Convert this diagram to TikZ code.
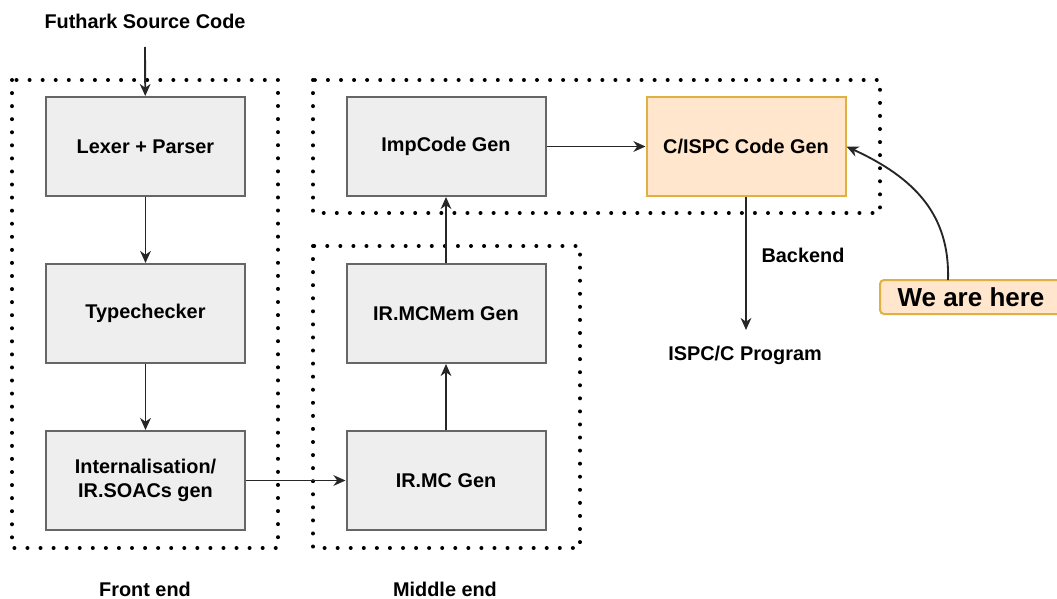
\documentclass[tikz,border=0pt]{standalone}
\usepackage{fontspec}
\setmainfont{Liberation Sans}
\usetikzlibrary{arrows.meta}
\definecolor{boxgray}{HTML}{EEEEEE}
\definecolor{linegray}{HTML}{666666}
\definecolor{peach}{HTML}{FFE6CC}
\definecolor{gold}{HTML}{E0B040}

\begin{document}
\begin{tikzpicture}[x=0.75pt,y=-0.75pt,
    bloc/.style={draw=linegray, fill=boxgray, line width=1.5pt, minimum width=149.25pt,
      minimum height=74.25pt, align=center, inner sep=0pt, font=\bfseries\fontsize{14.9}{18}\selectfont},
    label/.style={font=\bfseries\fontsize{14.9}{18}\selectfont, inner sep=0pt},
    fleche/.style={-{Stealth[length=9pt,width=8pt,inset=2.8pt]}, line width=1.4pt, draw=black!85},
    pointille/.style={line width=3pt, line cap=round, dash pattern=on 0pt off 9.8pt}]
  \useasboundingbox (0,0) rectangle (1057,599);

      % CADRES POINTILLES
      \draw[pointille] (12,80) rectangle (278,548); % Front end
      \draw[pointille] (313,246) rectangle (580,548); % Middle end
      \draw[pointille] (313,80) rectangle (880,213); % Backend

      % BLOCS
      \node[bloc] (lexer) at (145.5,146.5) {Lexer + Parser};
      \node[bloc] (typecheck) at (145.5,313.5) {Typechecker};
      \node[bloc] (intern) at (145.5,480.5) {Internalisation/\\IR.SOACs gen};
      \node[bloc] (irmc) at (446,480.5) {IR.MC Gen};
      \node[bloc] (irmcmem) at (446,313.5) {IR.MCMem Gen};
      \node[bloc] (impcode) at (446,146.5) {ImpCode Gen};
      \node[bloc, draw=gold, fill=peach] (cgen) at (746,146.5) {C/ISPC Code Gen};

      % TEXTES
      \node[label] (source) at (145,21) {Futhark Source Code};
      \node[label] (front) at (145,589) {Front end};
      \node[label] (middle) at (445,589) {Middle end};
      \node[label] (backend) at (803,255) {Backend};
      \node[label] (program) at (745,355) {ISPC/C Program};
      \node[draw=gold, fill=peach, line width=1.5pt, rounded corners=3pt, minimum width=136.5pt,
        minimum height=25.5pt, inner sep=0pt, font=\bfseries\fontsize{19.5}{22}\selectfont]
        (here) at (971,297) {We are here};

      \coordinate (sourceEnd) at (145,47);
      \coordinate (programTop) at (746,330);
      \coordinate (hereTop) at (948,280);

      % FLECHES
      \draw[fleche] (sourceEnd) -- (lexer);
      \draw[fleche] (lexer) -- (typecheck);
      \draw[fleche] (typecheck) -- (intern);
      \draw[fleche] (intern) -- (irmc);
      \draw[fleche] (irmc) -- (irmcmem);
      \draw[fleche] (irmcmem) -- (impcode);
      \draw[fleche] (impcode) -- (cgen);
      \draw[fleche] (cgen) -- (programTop);
      \draw[fleche] (hereTop) .. controls (950,215) and (915,178) .. (cgen.east);
\end{tikzpicture}
\end{document}
